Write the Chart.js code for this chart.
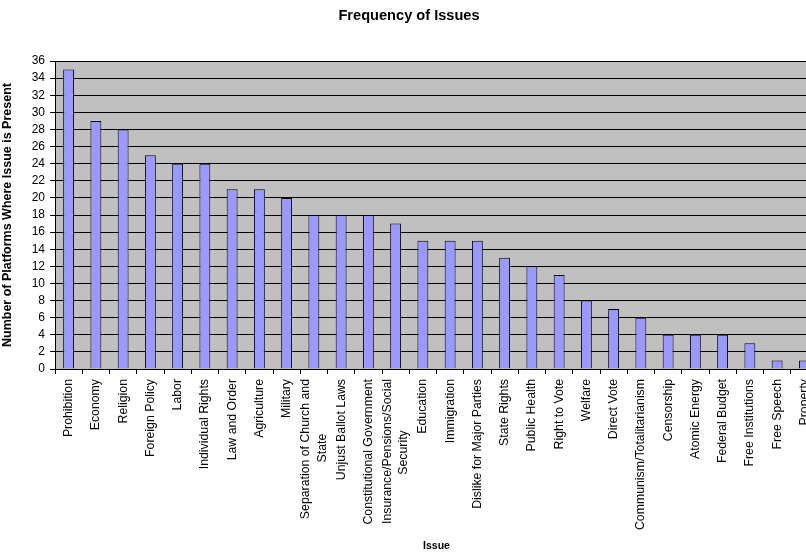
<!DOCTYPE html>
<html>
<head>
<meta charset="utf-8">
<title>Frequency of Issues</title>
<script src="https://cdn.jsdelivr.net/npm/chart.js@4/dist/chart.umd.min.js"></script>
<style>
  html, body { margin: 0; padding: 0; background: #ffffff; overflow: hidden; }
  canvas { display: block; }
</style>
</head>
<body>
<canvas id="issuesChart" width="830" height="554"></canvas>
<script>
// Issues raised in party platforms, most frequent first
const issues = [
  'Prohibition', 'Economy', 'Religion', 'Foreign Policy', 'Labor',
  'Individual Rights', 'Law and Order', 'Agriculture', 'Military',
  ['Separation of Church and', 'State'], 'Unjust Ballot Laws',
  'Constitutional Government', ['Insurance/Pensions/Social', 'Security'],
  'Education', 'Immigration', 'Dislike for Major Parties', 'State Rights',
  'Public Health', 'Right to Vote', 'Welfare', 'Direct Vote',
  'Communism/Totalitarianism', 'Censorship', 'Atomic Energy',
  'Federal Budget', 'Free Institutions', 'Free Speech', 'Property'
];

// Number of platforms in which each issue appears
const platformCounts = [
  35, 29, 28, 25, 24, 24, 21, 21, 20, 18, 18, 18, 17, 15, 15, 15,
  13, 12, 11, 8, 7, 6, 4, 4, 4, 3, 1, 1
];

const countAxisMax = 36;
const countAxisStep = 2;

const FONT = "'Liberation Sans', Arial, sans-serif";
const X_TICK_FONT_SIZE = 12.3;
const Y_TICK_FONT_SIZE = 12;

// Centre the shorter lines of a wrapped label under the longest one.
function centerLabelLines(label) {
  if (!Array.isArray(label)) return label;
  const ctx = document.createElement('canvas').getContext('2d');
  ctx.font = X_TICK_FONT_SIZE + 'px ' + FONT;
  const widths = label.map(s => ctx.measureText(s).width);
  const longest = Math.max(...widths);
  const space = ctx.measureText(' ').width;
  return label.map((s, i) => s + ' '.repeat(Math.round((longest - widths[i]) / 2 / space)));
}

// Rotated multi-line category labels: centre the whole block of lines on its tick.
function centerWrappedTickBlocks(scale) {
  if (scale._wrappedBlocksCentered) return;
  scale._wrappedBlocksCentered = true;
  const compute = scale._computeLabelItems.bind(scale);
  scale._computeLabelItems = function (chartArea) {
    const items = compute(chartArea);
    items.forEach(item => {
      if (Array.isArray(item.label) && item.label.length > 1) {
        const shift = (item.label.length - 1) * item.font.lineHeight / 2;
        const [tx, ty] = item.options.translation;
        item.options.translation = [tx - shift, ty];
      }
    });
    return items;
  };
}

// Grey plot background behind gridlines and bars
const plotBackground = {
  id: 'plotBackground',
  beforeDraw(chart) {
    const { ctx, chartArea: a } = chart;
    ctx.save();
    ctx.fillStyle = '#c0c0c0';
    ctx.fillRect(a.left, a.top, a.right - a.left, a.bottom - a.top);
    ctx.restore();
  }
};

new Chart(document.getElementById('issuesChart'), {
  type: 'bar',
  data: {
    labels: issues.map(centerLabelLines),
    datasets: [{
      label: 'Platforms',
      data: platformCounts,
      backgroundColor: '#9999ff',
      borderColor: '#000000',
      borderWidth: 1,
      barPercentage: 0.4,
      categoryPercentage: 1.0
    }]
  },
  options: {
    responsive: false,
    animation: false,
    devicePixelRatio: 1,
    layout: { padding: { left: 0, right: 12, top: 0, bottom: 0 } },
    plugins: {
      legend: { display: false },
      tooltip: { enabled: false },
      title: {
        display: true,
        text: 'Frequency of Issues',
        color: '#000000',
        font: { family: FONT, size: 14.6, weight: 'bold', lineHeight: 1.2 },
        padding: { top: 6.75, bottom: 36.75 }
      }
    },
    scales: {
      x: {
        offset: true,
        border: { display: true, color: '#000000', width: 1 },
        grid: {
          display: true,
          offset: true,
          drawOnChartArea: false,
          drawTicks: true,
          tickLength: 5,
          color: '#000000'
        },
        ticks: {
          autoSkip: false,
          maxRotation: 90,
          minRotation: 90,
          padding: 5,
          color: '#000000',
          font: { family: FONT, size: X_TICK_FONT_SIZE, lineHeight: 1.36 }
        },
        title: {
          display: true,
          text: 'Issue',
          color: '#000000',
          font: { family: FONT, size: 10.5, weight: 'bold', lineHeight: 1.2 },
          padding: { top: 0, bottom: 2 }
        },
        afterFit(scale) { scale.height = 185; },
        afterUpdate: centerWrappedTickBlocks
      },
      y: {
        min: 0,
        max: countAxisMax,
        border: { display: true, color: '#000000', width: 1 },
        grid: {
          display: true,
          drawOnChartArea: true,
          drawTicks: true,
          tickLength: 5,
          color: '#000000',
          lineWidth: 1
        },
        ticks: {
          stepSize: countAxisStep,
          autoSkip: false,
          maxTicksLimit: 100,
          padding: 5,
          color: '#000000',
          font: { family: FONT, size: Y_TICK_FONT_SIZE }
        },
        title: {
          display: true,
          text: 'Number of Platforms Where Issue is Present',
          color: '#000000',
          font: { family: FONT, size: 12.5, weight: 'bold', lineHeight: 1.2 },
          padding: { top: 0, bottom: 0 }
        },
        afterFit(scale) { scale.width = 55; }
      }
    }
  },
  plugins: [plotBackground]
});
</script>
</body>
</html>
